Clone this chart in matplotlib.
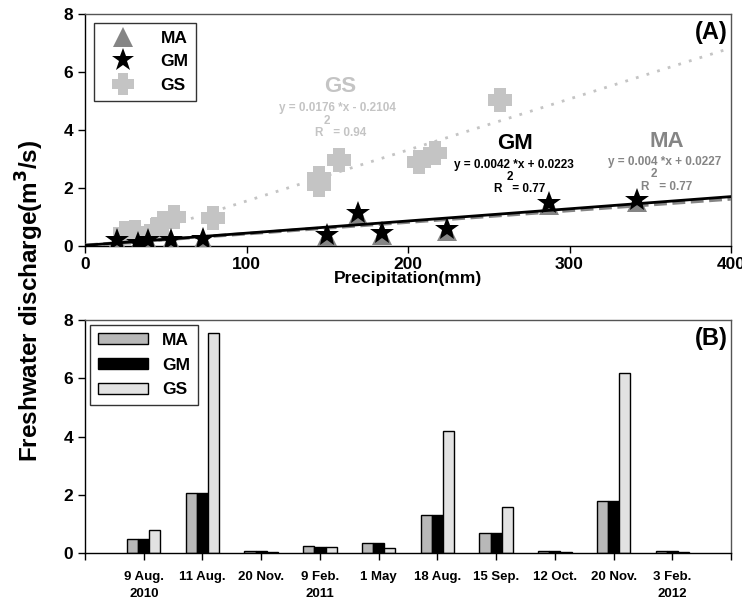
import numpy as np
import matplotlib
matplotlib.use('Agg')
import matplotlib.pyplot as plt
from matplotlib.lines import Line2D
from matplotlib.path import Path

plt.rcParams['font.family'] = ['Liberation Sans', 'DejaVu Sans']
plt.rcParams['font.weight'] = 'bold'

# panel A: discharge vs precipitation
gm_precip = [20, 33, 39, 53, 73, 150, 169, 184, 224, 287, 342]
gm_q = [0.2, 0.1, 0.2, 0.2, 0.25, 0.38, 1.14, 0.44, 0.57, 1.47, 1.58]
ma_precip = [20, 33, 39, 53, 73, 150, 169, 184, 224, 287, 342]
ma_q = [0.16, 0.07, 0.16, 0.16, 0.2, 0.33, 1.08, 0.39, 0.52, 1.41, 1.52]
gs_precip = [25, 31, 44, 48, 55, 79, 145, 145, 157, 207, 217, 257]
gs_q = [0.45, 0.48, 0.55, 0.78, 1.0, 0.95, 2.1, 2.35, 2.97, 2.9, 3.2, 5.03]

fits = {'MA': (0.004, 0.0227), 'GM': (0.0042, 0.0223), 'GS': (0.0176, -0.2104)}

# panel B: discharge by sampling date
dates = ['9 Aug.\n2010', '11 Aug.', '20 Nov.', '9 Feb.\n2011', '1 May',
         '18 Aug.', '15 Sep.', '12 Oct.', '20 Nov.', '3 Feb.\n2012']
ma_bar = [0.49, 2.07, 0.08, 0.23, 0.36, 1.3, 0.69, 0.08, 1.78, 0.08]
gm_bar = [0.49, 2.07, 0.07, 0.21, 0.34, 1.3, 0.69, 0.07, 1.78, 0.07]
gs_bar = [0.78, 7.55, 0.05, 0.19, 0.17, 4.19, 1.57, 0.05, 6.18, 0.05]

c_ma = '#858585'
c_gs = '#c4c4c4'

# chunky plus marker like the original
h = 0.24
plus_verts = [(-h, -0.5), (h, -0.5), (h, -h), (0.5, -h), (0.5, h), (h, h),
              (h, 0.5), (-h, 0.5), (-h, h), (-0.5, h), (-0.5, -h), (-h, -h),
              (-h, -0.5)]
fat_plus = Path(plus_verts, closed=True)

fig = plt.figure(figsize=(7.42, 6.02), dpi=100)
ax1 = fig.add_axes([0.1146, 0.5914, 0.8706, 0.3854])
ax2 = fig.add_axes([0.1146, 0.0814, 0.8706, 0.387])

# --- panel A ---
xx = np.array([0, 400])
a, b = fits['GS']
ax1.plot(xx, a * xx + b, color=c_gs, ls=(0, (1, 3)), lw=2, zorder=1)
ax1.plot(gs_precip, gs_q, marker=fat_plus, ls='', color=c_gs, ms=17, mew=0, zorder=2)
a, b = fits['MA']
ax1.plot(xx, a * xx + b, color=c_ma, ls='--', lw=2.5, zorder=3)
ax1.plot(ma_precip, ma_q, '^', color=c_ma, ms=14, mew=0, zorder=3)
a, b = fits['GM']
ax1.plot(xx, a * xx + b, color='black', lw=2, zorder=4)
ax1.plot(gm_precip, gm_q, '*', color='black', ms=18, mew=0, zorder=5)

ax1.set_xlim(0, 400)
ax1.set_ylim(0, 8)
ax1.set_xticks([0, 100, 200, 300, 400])
ax1.set_yticks([0, 2, 4, 6, 8])
ax1.set_xlabel('Precipitation(mm)', fontsize=12.5, fontweight='bold', labelpad=-1)
ax1.text(0.995, 0.97, '(A)', transform=ax1.transAxes, ha='right', va='top',
         fontsize=17, fontweight='bold')

ax1.text(158, 5.5, 'GS', color=c_gs, fontsize=16, ha='center', va='center')
ax1.text(156, 4.75, 'y = 0.0176 *x - 0.2104', color=c_gs, fontsize=8.5,
         ha='center', va='center')
ax1.text(150, 4.32, '2', color=c_gs, fontsize=8.5, ha='center', va='center')
ax1.text(158, 3.9, 'R   = 0.94', color=c_gs, fontsize=8.5, ha='center', va='center')

ax1.text(266, 3.55, 'GM', color='black', fontsize=16, ha='center', va='center')
ax1.text(265.6, 2.8, 'y = 0.0042 *x + 0.0223', color='black', fontsize=8.5,
         ha='center', va='center')
ax1.text(263, 2.37, '2', color='black', fontsize=8.5, ha='center', va='center')
ax1.text(269, 1.95, 'R   = 0.77', color='black', fontsize=8.5, ha='center', va='center')

ax1.text(360, 3.6, 'MA', color=c_ma, fontsize=16, ha='center', va='center')
ax1.text(359, 2.9, 'y = 0.004 *x + 0.0227', color=c_ma, fontsize=8.5,
         ha='center', va='center')
ax1.text(352, 2.47, '2', color=c_ma, fontsize=8.5, ha='center', va='center')
ax1.text(360, 2.04, 'R   = 0.77', color=c_ma, fontsize=8.5, ha='center', va='center')

handles = [Line2D([], [], marker='^', color=c_ma, ls='', ms=14, mew=0),
           Line2D([], [], marker='*', color='black', ls='', ms=17, mew=0),
           Line2D([], [], marker=fat_plus, color=c_gs, ls='', ms=16, mew=0)]
leg = ax1.legend(handles, ['MA', 'GM', 'GS'], loc='upper left', fontsize=12.5,
                 fancybox=False, edgecolor='black', handletextpad=0.9,
                 borderpad=0.45, labelspacing=0.5, borderaxespad=0.5,
                 handlelength=2.5)
leg.get_frame().set_linewidth(1)

# --- panel B ---
pos = np.arange(1, len(dates) + 1)
w = 0.19
ax2.bar(pos - w, ma_bar, w, color='#b8b8b8', edgecolor='black', lw=1, label='MA')
ax2.bar(pos, gm_bar, w, color='black', edgecolor='black', lw=1, label='GM')
ax2.bar(pos + w, gs_bar, w, color='#e2e2e2', edgecolor='black', lw=1, label='GS')
ax2.set_xlim(0, 11)
ax2.set_ylim(0, 8)
ax2.set_yticks([0, 2, 4, 6, 8])
ax2.set_xticks(np.arange(0, 12))
ax2.set_xticklabels([''] + dates + [''], fontsize=9.5, linespacing=1.6)
ax2.text(0.995, 0.97, '(B)', transform=ax2.transAxes, ha='right', va='top',
         fontsize=17, fontweight='bold')
leg2 = ax2.legend(loc='upper left', fontsize=12.5, fancybox=False, edgecolor='black',
                  handlelength=2.9, handleheight=0.6, borderpad=0.45,
                  labelspacing=0.55, borderaxespad=0.3, handletextpad=0.8)
leg2.get_frame().set_linewidth(1)

for ax in (ax1, ax2):
    for s in ax.spines.values():
        s.set_color('#555555')
        s.set_linewidth(1)
    ax.spines['left'].set_color('black')
    ax.spines['bottom'].set_color('black')
    ax.tick_params(direction='out', length=5, width=1, labelsize=12.5)
ax2.tick_params(axis='x', labelsize=9.5, pad=8)
ax1.tick_params(axis='x', pad=3)

fig.text(0.04, 0.5, 'Freshwater discharge(m$^\\mathbf{3}$/s)', rotation=90,
         ha='center', va='center', fontsize=17.5, fontweight='bold')

fig.savefig('out.png', dpi=100)
